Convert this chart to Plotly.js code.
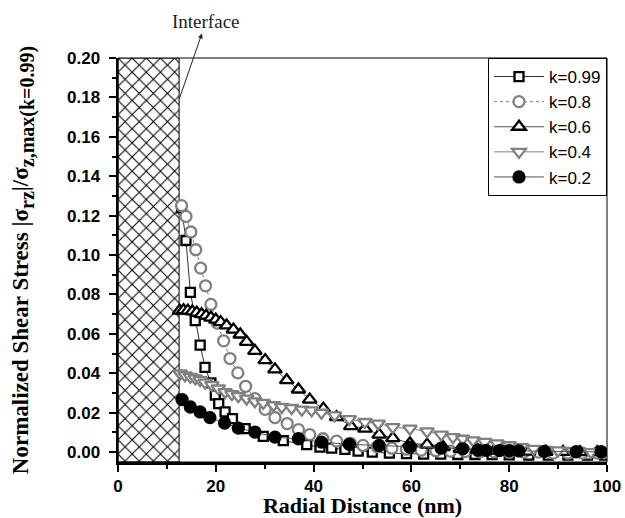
<!DOCTYPE html>
<html>
<head>
<meta charset="utf-8">
<script src="https://cdn.plot.ly/plotly-3.0.1.min.js"></script>
<style>html,body{margin:0;padding:0;background:#fff;}#chart{width:625px;height:518px;}</style>
</head>
<body>
<div id="chart"></div>
<script>
// ---- data ----
var interfaceX = 12.5;
var seriesNames = ["k=0.99", "k=0.8", "k=0.6", "k=0.4", "k=0.2"];

var x099 = [13.0,13.9,14.8,15.8,16.8,17.8,19.0,19.9,20.6,21.9,23.4,26.0,29.7,33.8,38.6,41.3,43.7,46.4,49.1,52.0,55.5,59.0,62.5,66.0,69.5,73.0,76.5,80.0,84.0,88.0,92.0,96.0,99.5];
var y099 = [0.124,0.1074,0.0811,0.0667,0.0543,0.0430,0.0351,0.0289,0.0246,0.0204,0.0170,0.0119,0.0080,0.0058,0.0038,0.0025,0.0020,0.0014,0.0005,0.0,-0.0005,-0.0008,-0.0010,-0.0010,-0.0012,-0.0012,-0.0013,-0.0014,-0.0015,-0.0015,-0.0015,-0.0015,-0.0015];

var x08 = [13.0,13.9,14.9,15.9,16.9,17.9,19.0,20.3,21.6,22.9,24.5,26.1,28.0,30.1,32.1,34.6,36.9,39.2,41.9,44.7,47.5,50.1,53.0,56.0,59.0,62.0,65.0,68.0,71.0,74.0,77.0,80.0,83.0,86.0,89.0,92.0,95.0,98.0];
var y08 = [0.1251,0.1196,0.1117,0.1027,0.0934,0.0844,0.0750,0.0655,0.0565,0.0475,0.0402,0.0334,0.0272,0.0217,0.0175,0.0145,0.0114,0.0089,0.0068,0.0056,0.0045,0.0034,0.0027,0.0020,0.0015,0.0010,0.0007,0.0005,0.0003,0.0002,0.0001,0.0,0.0,0.0,-0.0005,-0.0005,-0.0005,-0.0005];

var x06 = [12.6,13.4,14.3,15.2,16.1,17.1,18.0,19.0,20.0,21.0,22.2,23.6,25.0,26.3,28.0,30.1,32.1,34.5,36.9,39.2,42.0,44.7,47.6,50.5,53.4,56.2,59.7,63.2,66.5,70.0,73.5,77.0,80.5,84.0,87.5,91.0,94.5,98.0];
var y06 = [0.0718,0.0720,0.0718,0.0714,0.0708,0.0700,0.0692,0.0683,0.0672,0.0660,0.0643,0.0622,0.0597,0.0560,0.0514,0.0467,0.0420,0.0365,0.0318,0.0267,0.0221,0.0178,0.0132,0.0119,0.0089,0.0071,0.0045,0.0038,0.0025,0.0017,0.0012,0.0008,0.0005,0.0003,0.0002,0.0001,0.0,0.0];

var x04 = [12.7,13.7,14.8,15.8,16.8,17.8,19.2,20.5,21.9,23.3,24.6,26.3,28.0,29.7,31.8,33.5,35.5,37.6,39.6,41.6,44.3,47.3,50.5,53.2,56.2,59.7,63.2,66.1,68.5,70.5,72.6,75.0,77.5,80.0,82.5,85.0,87.5,90.0,93.0,96.7,99.5];
var y04 = [0.0399,0.0390,0.0382,0.0374,0.0365,0.0353,0.0340,0.0323,0.0305,0.0294,0.0284,0.0272,0.0258,0.0250,0.0238,0.0229,0.0224,0.0216,0.0212,0.0200,0.0187,0.0168,0.0153,0.0145,0.0127,0.0119,0.0105,0.0089,0.0076,0.0068,0.0060,0.0052,0.0045,0.0035,0.0025,0.0017,0.0012,0.0009,0.0004,0.0,0.0];

var x02 = [13.1,14.8,16.8,18.8,21.8,24.6,28.0,32.1,36.9,41.6,47.3,53.4,59.7,66.1,70.5,73.6,75.3,78.0,80.0,82.0,87.2,93.7,98.8];
var y02 = [0.0267,0.0229,0.0204,0.0175,0.0148,0.0122,0.0102,0.0076,0.0068,0.0051,0.0040,0.0034,0.0025,0.0020,0.0017,0.0010,0.0009,0.0008,0.0008,0.0006,0.0004,0.0002,0.0002];

var xTickVals = [0, 20, 40, 60, 80, 100];
var yRange = [-0.005, 0.2];

var GRAY = "#808080";
function series(x, y, name, symbol, mcolor, fill, size, lcolor, dash) {
  return {
    type: "scatter", mode: "lines+markers", x: x, y: y, name: name,
    line: {color: lcolor, width: 1, dash: dash},
    marker: {symbol: symbol, size: size, color: fill, line: {color: mcolor, width: 2.3}},
    cliponaxis: true
  };
}

var traces = [
  {
    type: "bar", x: [interfaceX / 2], y: [yRange[1] - yRange[0]], base: [yRange[0]],
    width: [interfaceX], showlegend: false, hoverinfo: "skip",
    marker: {color: "#ffffff", line: {color: "#000", width: 1},
             pattern: {shape: "x", size: 10, solidity: 0.2, fgcolor: "#000", bgcolor: "#fff"}}
  },
  series(x099, y099, seriesNames[0], "square", "#000", "#fff", 9, "#333", "solid"),
  series(x08, y08, seriesNames[1], "circle", GRAY, "#fff", 11, GRAY, "dot"),
  series(x06, y06, seriesNames[2], "triangle-up", "#000", "#fff", 12, "#555", "solid"),
  series(x04, y04, seriesNames[3], "triangle-down", GRAY, "#fff", 12, GRAY, "solid"),
  series(x02, y02, seriesNames[4], "circle", "#000", "#000", 11, "#555", "solid")
];

var tickFont = {family: "Liberation Sans, Arial, sans-serif", size: 17, color: "#000", weight: "bold"};
var titleFont = {family: "Liberation Serif, Times New Roman, serif", color: "#000", weight: "bold"};
var bigSub = function (s) { return '<span style="font-size:20px;baseline-shift:-6px">' + s + '</span>'; };

var layout = {
  width: 625, height: 518,
  margin: {l: 118, r: 18, t: 58, b: 56, pad: 0},
  paper_bgcolor: "#fff", plot_bgcolor: "#fff",
  showlegend: true,
  bargap: 0,
  xaxis: {
    range: [0, 100], tickvals: xTickVals, ticks: "outside", ticklen: 7, tickwidth: 2, tickcolor: "#000",
    showline: true, linewidth: 2.5, linecolor: "#000", showgrid: false, zeroline: false,
    minor: {dtick: 10, tick0: 0, ticks: "outside", ticklen: 4, tickwidth: 2, tickcolor: "#000", showgrid: false},
    tickfont: tickFont, automargin: false,
    title: {text: "Radial Distance (nm)", font: Object.assign({size: 22}, titleFont), standoff: 8}
  },
  yaxis: {
    range: yRange, tick0: 0, dtick: 0.02, tickformat: ".2f", ticks: "outside", ticklen: 7, tickwidth: 2, tickcolor: "#000",
    showline: true, linewidth: 2.5, linecolor: "#000", showgrid: false, zeroline: false,
    minor: {dtick: 0.01, tick0: 0, ticks: "outside", ticklen: 4, tickwidth: 2, tickcolor: "#000", showgrid: false},
    tickfont: tickFont, ticklabelstandoff: 5, automargin: false,
    title: {text: "Normalized Shear Stress |σ" + bigSub("rz") + "|/σ" + bigSub("z,max(k=0.99)"),
            font: Object.assign({size: 23}, titleFont), standoff: 32}
  },
  legend: {
    x: 1, xanchor: "right", y: 1, yanchor: "top",
    bgcolor: "#fff", bordercolor: "#000", borderwidth: 1,
    font: {family: "Liberation Sans, Arial, sans-serif", size: 17, color: "#000"},
    tracegroupgap: 0, itemwidth: 50
  },
  shapes: [
    {type: "rect", xref: "paper", yref: "paper", x0: 0, x1: 1, y0: 0, y1: 1, line: {color: "#000", width: 1}, layer: "above"}
  ],
  annotations: [
    {
      x: interfaceX, y: 0.179, xref: "x", yref: "y", text: "Interface",
      showarrow: true, ax: 27, ay: -78, arrowside: "start", arrowhead: 2, startarrowhead: 2,
      arrowsize: 1, startarrowsize: 1, arrowwidth: 1, arrowcolor: "#222",
      font: {family: "Liberation Serif, Times New Roman, serif", size: 19, color: "#222"}
    }
  ]
};

Plotly.newPlot("chart", traces, layout, {displayModeBar: false, staticPlot: true});
</script>
</body>
</html>
